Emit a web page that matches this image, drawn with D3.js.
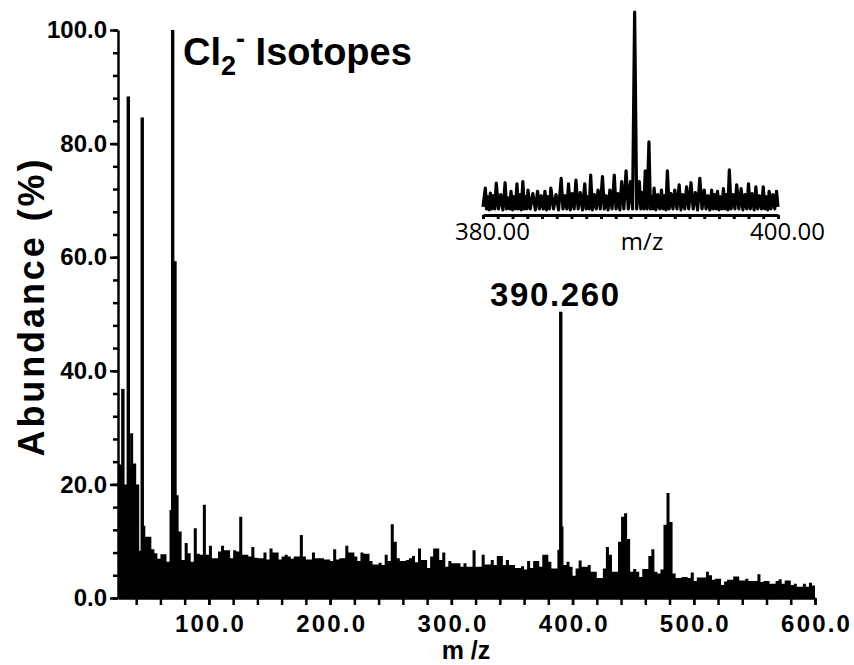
<!DOCTYPE html>
<html><head><meta charset="utf-8">
<script src="https://cdn.jsdelivr.net/npm/d3@7"></script>
<style>body{margin:0;background:#fff} svg{display:block}</style>
</head><body><svg id="c" width="854" height="665"></svg>
<script>
// ---- data ----
const mzStart = 25, mzEnd = 600, mzStep = 2.5;
const abundance = [
 23.5,23.5,20,23,29,23.7,20,8.3,12.7,10.8,
 10.8,8.6,7.9,6.9,7.7,7.7,6.4,15.5,18.1,18.1,
 11.7,6.7,9.7,7.9,6.4,12.3,7.8,7.6,16.4,7.6,
 9.2,7.0,7.0,8.2,9.2,8.4,8.4,7.0,8.4,8.2,
 14.3,7.6,7.6,7.3,9.0,7.1,7.0,7.0,8.0,6.8,
 8.7,8.0,8.0,6.8,7.3,7.6,7.3,6.9,7.3,7.3,
 11.1,7.3,6.8,6.8,8.0,7.0,7.0,7.0,6.8,6.8,
 6.5,8.6,6.8,7.0,7.0,9.2,8.0,8.0,7.3,6.5,
 8.0,7.8,7.8,6.5,5.9,5.9,6.2,5.8,7.6,6.5,
 13.0,9.9,7.0,6.5,6.5,6.7,7.0,7.4,6.3,8.7,
 6.7,6.7,5.3,7.3,8.7,8.7,6.7,8.0,5.5,6.5,
 6.1,6.1,6.1,5.5,6.1,5.5,5.5,8.4,5.5,5.5,
 7.6,5.9,5.9,6.7,5.8,7.4,7.4,5.8,6.7,5.8,
 5.8,5.3,5.3,5.6,5.0,6.5,5.3,6.5,6.5,5.5,
 7.6,7.6,6.4,5.2,5.2,8.5,12.6,5.8,6.4,5.5,
 3.9,5.2,6.6,5.5,5.5,5.8,4.6,4.6,3.5,3.5,
 5.2,9.0,7.6,4.6,4.6,9.9,14.3,14.9,10.4,4.6,
 5.1,4.6,3.7,5.1,5.1,7.4,8.6,4.6,4.3,5.0,
 12.9,18.5,13.4,4.3,3.5,3.5,3.7,3.7,3.5,4.5,
 3.0,3.6,3.6,3.6,4.6,4.0,3.2,3.4,3.4,2.3,
 2.9,3.2,3.2,3.8,3.8,3.1,3.1,3.4,3.0,3.0,
 3.0,4.2,2.8,3.0,3.0,2.5,2.5,3.0,3.3,2.5,
 3.1,3.1,2.3,2.5,2.0,2.0,2.5,2.0,2.7,2.2
];
const peakMz = [29.0, 33.5, 45.0, 70.1, 72.0, 390.26];
const peakAbundance = [36.8, 88.3, 84.6, 100, 59.3, 50.4];
const yMajorTicks = [0, 20, 40, 60, 80, 100];
const yMinorStep = 4;
const xMajorTicks = [100, 200, 300, 400, 500, 600];
const xMinorStep = 20;

const insetMz = [
 380.0,380.16,380.24,380.33,380.42,380.5,380.6,380.7,380.8,380.9,
 381.05,381.2,381.35,381.5,381.6,381.7,381.8,381.9,382.0,382.1,
 382.2,382.3,382.4,382.5,382.6,382.7,382.8,382.9,382.97,383.05,
 383.2,383.38,383.55,383.7,383.82,383.95,384.08,384.2,384.3,384.4,
 384.5,384.6,384.78,384.95,385.12,385.3,385.42,385.55,385.68,385.8,
 385.92,386.05,386.18,386.3,386.45,386.6,386.75,386.9,387.0,387.1,
 387.2,387.3,387.42,387.55,387.68,387.8,387.95,388.1,388.22,388.35,
 388.48,388.6,388.75,388.9,389.02,389.15,389.28,389.4,389.55,389.7,
 389.85,390.0,390.14,390.28,390.42,390.6,390.7,390.8,390.9,391.0,
 391.12,391.25,391.35,391.45,391.52,391.6,391.72,391.85,391.98,392.1,
 392.2,392.3,392.4,392.5,392.62,392.75,392.88,393.0,393.15,393.3,
 393.42,393.55,393.68,393.8,393.95,394.1,394.25,394.4,394.55,394.7,
 394.85,395.0,395.12,395.25,395.38,395.5,395.6,395.7,395.8,395.9,
 396.0,396.1,396.2,396.3,396.4,396.5,396.6,396.7,396.82,396.95,
 397.08,397.2,397.35,397.5,397.62,397.75,397.88,398.0,398.12,398.25,
 398.38,398.5,398.62,398.75,398.88,399.0,399.1,399.2,399.3,399.4,
 399.52,399.65,399.78,399.9,400.0];
const insetAbundance = [
 4,13.3,3,9,2.5,10.8,3,9.5,3,15.7,
 3,10,2.5,15.9,3,8.5,3,11.7,2.5,9,
 3,15.4,3,10,2.5,16.4,3,9,3,12.3,
 3,10.5,2.5,11.7,3,9.5,3,11.7,2.5,9,
 3,13.3,3,10,2.5,18,3,9.5,3,15.4,
 2.5,10.5,3,17.2,3,11,2.5,15.4,3,9,
 3,19.7,2.5,10,3,12.3,3,18.9,3,9.5,
 2.5,12.3,3,19.7,3,10.5,2.5,16.4,3,21.7,
 3,16.4,3,100,3,16.4,3,11,3,21.7,
 3,36,3,9,3,13.3,2.5,10,3,12.3,
 3,9.5,2.5,21.7,3,10.5,3,12.3,3,14.8,
 2.5,10,3,13.9,3,15.9,3,11,2.5,18,
 3,12.3,3,9.5,2.5,12.3,3,10,3,11.7,
 2.5,9,3,13,3,10,2.5,22.2,3,10,
 3,14.8,3,13,2.5,10,3,15.4,3,10.5,
 2.5,13.9,3,9.5,3,13.9,3,9,2.5,11.7,
 3,10,3,11.7,4];
const insetTickStep = 1;
const insetLabelTicks = [380, 400];

// ---- drawing ----
const svg = d3.select("#c");
const x = d3.scaleLinear().domain([mzStart, mzEnd]).range([118, 815]);
const y = d3.scaleLinear().domain([0, 100]).range([598, 30]);

const pts = abundance.map((v, i) => [mzStart + i * mzStep, v]);
pts.push([mzEnd, abundance[abundance.length - 1]]);
svg.append("path")
  .attr("d", d3.area().curve(d3.curveStepAfter)
    .x(d => x(d[0])).y0(y(0)).y1(d => y(d[1]))(pts))
  .attr("fill", "#000");

svg.append("g").selectAll("rect").data(peakMz).join("rect")
  .attr("x", d => x(d) - 1.7).attr("width", 3.4)
  .attr("y", (d, i) => y(peakAbundance[i]))
  .attr("height", (d, i) => y(0) - y(peakAbundance[i]))
  .attr("fill", "#000");

const fmt = d3.format(".1f");
const sans = "'Liberation Sans', Arial, sans-serif";
const tickFont = g => g.selectAll("text")
  .attr("font-family", sans)
  .attr("font-weight", "bold").attr("font-size", 24).attr("fill", "#000");

// y axis
const gy = svg.append("g").attr("transform", "translate(118,0)");
gy.call(d3.axisLeft(y).tickValues(d3.range(0, 100.1, yMinorStep)).tickSize(5).tickFormat("").tickSizeOuter(0));
gy.append("g").call(d3.axisLeft(y).tickValues(yMajorTicks).tickSize(8).tickPadding(3).tickFormat(fmt).tickSizeOuter(0))
  .call(g => g.select(".domain").remove());
gy.selectAll("path,line").attr("stroke", "#000").attr("stroke-width", 2.5);
tickFont(gy);

// x axis
const gx = svg.append("g").attr("transform", "translate(0,598)");
gx.call(d3.axisBottom(x).tickValues(d3.range(40, 600.1, xMinorStep)).tickSize(7).tickFormat("").tickSizeOuter(0));
gx.append("g").call(d3.axisBottom(x).tickValues(xMajorTicks).tickSize(7).tickPadding(10).tickFormat(fmt).tickSizeOuter(0))
  .call(g => g.select(".domain").remove());
gx.selectAll("path,line").attr("stroke", "#000").attr("stroke-width", 2.5);
tickFont(gx);
gx.selectAll("text").attr("letter-spacing", 2.2).attr("dx", 1.1);

// axis titles
svg.append("text").attr("transform", "translate(44,308) rotate(-90)")
  .attr("text-anchor", "middle").attr("font-family", sans)
  .attr("font-weight", "bold").attr("font-size", 36)
  .attr("textLength", 297).attr("lengthAdjust", "spacing")
  .text("Abundance (%)");
svg.append("text").attr("x", 466).attr("y", 659).attr("text-anchor", "middle")
  .attr("font-family", sans)
  .attr("font-weight", "bold").attr("font-size", 25).text("m /z");

// title
const t = svg.append("text").attr("x", 183).attr("y", 65)
  .attr("font-family", sans).attr("font-weight", "bold").attr("font-size", 38);
t.append("tspan").text("Cl");
t.append("tspan").attr("font-size", 27).attr("dy", 10).text("2");
t.append("tspan").attr("font-size", 27).attr("dy", -27).text("-");
t.append("tspan").attr("dy", 17).text(" Isotopes");

// peak label
svg.append("text").attr("x", 490).attr("y", 306)
  .attr("font-family", sans).attr("font-weight", "bold").attr("font-size", 33)
  .attr("textLength", 129).attr("lengthAdjust", "spacing").text("390.260");

// inset
const xi = d3.scaleLinear().domain([380, 400]).range([483, 778]);
const yi = d3.scaleLinear().domain([0, 100]).range([215, 12]);
svg.append("path")
  .attr("d", d3.line().x(d => xi(d[0])).y(d => yi(d[1]))(insetMz.map((m, i) => [m, insetAbundance[i]])))
  .attr("fill", "none").attr("stroke", "#000").attr("stroke-width", 3.2).attr("stroke-linejoin", "round");
const gi = svg.append("g").attr("transform", "translate(0,215)");
gi.call(d3.axisBottom(xi).tickValues(d3.range(380, 400.1, insetTickStep)).tickSize(4).tickPadding(4)
  .tickFormat(d => insetLabelTicks.includes(d) ? d3.format(".2f")(d) : "").tickSizeOuter(0));
gi.selectAll("path,line").attr("stroke", "#000").attr("stroke-width", 3);
gi.selectAll("text").attr("font-family", "'Open Sans', sans-serif").attr("font-size", 24)
  .attr("fill", "#000").attr("dx", 9);
svg.append("text").attr("x", 642).attr("y", 250).attr("text-anchor", "middle")
  .attr("font-family", "'Open Sans', sans-serif").attr("font-size", 24).text("m/z");
</script></body></html>
